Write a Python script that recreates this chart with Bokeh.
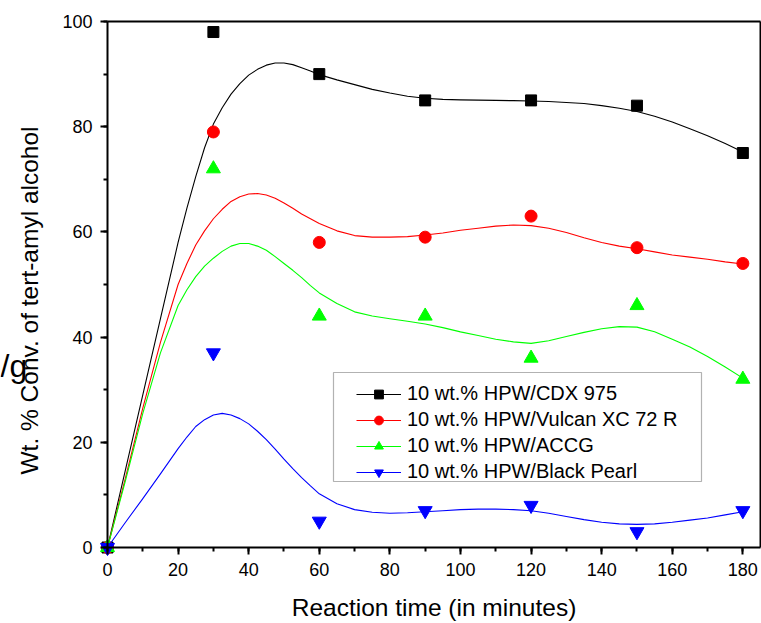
import math
from bokeh.plotting import figure
from bokeh.models import (SingleIntervalTicker, FixedTicker, LinearAxis, Label,
                          BoxAnnotation, Range1d)
from bokeh.embed import file_html
from bokeh.resources import INLINE

FONT = "Liberation Sans"

# measured points
time_min = [0, 30, 60, 90, 120, 150, 180]
cdx975 = [0, 98, 90, 85, 85, 84, 75]
vulcan = [0, 79, 58, 59, 63, 57, 54]
accg = [0, 72, 44, 44, 36, 46, 32]
black_pearl = [0, 37, 5, 7, 8, 3, 7]

# smooth fitted curves
fit_t = [0, 5, 10, 15, 20,
         22.5, 25, 27.5, 30, 32.5, 35, 37.5, 40, 42.5, 45, 47.5, 50, 52.5, 55, 57.5, 60,
         65, 70, 75, 80, 85, 90, 95, 100, 105, 110, 115, 120,
         125, 130, 135, 140, 145, 150, 155, 160, 165, 170, 175, 180]
fit_cdx = [0, 14.5, 29, 43.5, 58,
           64.5, 70.5, 76, 80.5, 83.6, 86.2, 88.2, 89.8, 90.9, 91.7, 92.1, 92.1, 91.8, 91.2, 90.6, 89.9,
           88.9, 88, 87.1, 86.4, 85.8, 85.4, 85.2, 85.1, 85.05, 85, 84.95, 84.9,
           84.8, 84.6, 84.4, 84, 83.5, 82.9, 82, 80.9, 79.6, 78.3, 76.8, 75.2]
fit_vulcan = [0, 13, 26.5, 39, 50,
              54, 57.5, 60.2, 62.5, 64.3, 65.8, 66.7, 67.2, 67.3, 67, 66.4, 65.5, 64.5, 63.4, 62.5, 61.6,
              60.2, 59.3, 59, 59, 59.1, 59.4, 59.8, 60.3, 60.7, 61.1, 61.3, 61.2,
              60.7, 59.9, 58.9, 58, 57.3, 56.8, 56.2, 55.6, 55.2, 54.8, 54.3, 53.9]
fit_accg = [0, 12.5, 25.5, 37, 46,
            49, 51.5, 53.5, 55, 56.3, 57.3, 57.8, 57.8, 57.3, 56.5, 55.3, 54, 52.7, 51.3, 49.8, 48.4,
            46.4, 44.8, 44, 43.5, 43, 42.5, 41.8, 41, 40.3, 39.6, 39.1, 38.8,
            39.3, 40.1, 40.9, 41.6, 42, 41.9, 41, 39.6, 38.1, 36.3, 34.3, 32.2]
fit_bp = [0, 4.7, 9.3, 14, 18.8,
          21, 23, 24.3, 25.2, 25.5, 25.2, 24.5, 23.5, 22.1, 20.5, 18.7, 16.8, 15, 13.3, 11.7, 10.2,
          8.3, 7.2, 6.7, 6.5, 6.6, 6.8, 7, 7.2, 7.3, 7.3, 7.2, 7.0,
          6.5, 5.9, 5.3, 4.8, 4.5, 4.4, 4.5, 4.8, 5.2, 5.6, 6.2, 6.8]

labels = ["10 wt.% HPW/CDX 975", "10 wt.% HPW/Vulcan XC 72 R",
          "10 wt.% HPW/ACCG", "10 wt.% HPW/Black Pearl"]
y_title = "Wt. % Conv. of tert-amyl alcohol"
x_title = "Reaction time (in minutes)"
stray_text = "/g"

# layout (pixels): the frame covers the whole canvas; the axes are drawn
# at fixed positions inside it so every text stays visible.
W, H = 761, 623
X_MAX, Y_MAX = 185, 100
LEFT_PX, RIGHT_PX = 107, 760     # canvas x of x = 0 and x = X_MAX
TOP_PX, BOTTOM_PX = 21, 547      # canvas y of y = Y_MAX and y = 0
kx = (RIGHT_PX - LEFT_PX) / X_MAX
ky = (BOTTOM_PX - TOP_PX) / Y_MAX
x_range = Range1d(-LEFT_PX / kx, X_MAX + (W - RIGHT_PX) / kx)
y_range = Range1d(-(H - BOTTOM_PX) / ky, Y_MAX + TOP_PX / ky)
UP = H - BOTTOM_PX               # screen y offset of the axis from frame bottom

p = figure(width=W, height=H, output_backend="svg", toolbar_location=None,
           x_range=x_range, y_range=y_range,
           x_axis_location=None, y_axis_location=None,
           min_border_left=0, min_border_right=0, min_border_top=0,
           min_border_bottom=0)
p.grid.visible = False
p.outline_line_color = None

series = [
    (cdx975, fit_cdx, "#000000", "square", 11),
    (vulcan, fit_vulcan, "#FF0000", "circle", 12),
    (accg, fit_accg, "#00FF00", "triangle", 14),
    (black_pearl, fit_bp, "#0000FF", "inverted_triangle", 14),
]
for (pts, fit, col, mk, sz), lab in zip(series, labels):
    p.line(fit_t, fit, line_color=col, line_width=1.1, legend_label=lab,
           line_join="round")
    p.scatter(time_min, pts, marker=mk, size=sz, fill_color=col, line_color=col,
              legend_label=lab)


def style(ax):
    ax.axis_line_width = 2
    ax.axis_line_color = "black"
    ax.major_tick_line_width = 2
    ax.minor_tick_line_width = 2
    ax.major_tick_out = 7
    ax.major_tick_in = 0
    ax.minor_tick_out = 4
    ax.minor_tick_in = 0
    ax.major_label_text_font = FONT
    ax.major_label_text_font_size = "18px"
    ax.major_label_text_color = "black"
    ax.major_label_standoff = 8


xax = LinearAxis(fixed_location=0, bounds=(0, X_MAX),
                 ticker=SingleIntervalTicker(interval=20, num_minor_ticks=2))
style(xax)
p.add_layout(xax, "below")

yax = LinearAxis(fixed_location=0, bounds=(0, Y_MAX),
                 ticker=SingleIntervalTicker(interval=20, num_minor_ticks=2))
style(yax)
p.add_layout(yax, "left")

# top and right border lines of the box
top = LinearAxis(fixed_location=Y_MAX, bounds=(0, X_MAX), ticker=FixedTicker(ticks=[]),
                 axis_line_width=2, axis_line_color="black",
                 major_tick_line_color=None, minor_tick_line_color=None)
p.add_layout(top, "above")
right = LinearAxis(fixed_location=X_MAX, bounds=(0, Y_MAX), ticker=FixedTicker(ticks=[]),
                   axis_line_width=2, axis_line_color="black",
                   major_tick_line_color=None, minor_tick_line_color=None)
p.add_layout(right, "right")

xt = Label(x=(LEFT_PX + RIGHT_PX) / 2, y=16, x_units="screen", y_units="screen",
           text=x_title, text_align="center", text_baseline="alphabetic",
           text_font=FONT, text_font_size="24.5px", text_color="black")
p.add_layout(xt)

yt = Label(x=29, y=UP + 247, x_units="screen", y_units="screen", text=y_title,
           angle=math.pi / 2, text_align="center", text_baseline="alphabetic",
           text_font=FONT, text_font_size="24.5px", text_color="black")
p.add_layout(yt)

stray = Label(x=0, y=UP + 182, x_units="screen", y_units="screen", text=stray_text,
              text_align="left", text_baseline="alphabetic",
              text_font=FONT, text_font_size="32px", text_color="black")
p.add_layout(stray)

lg = p.legend[0]
lg.location = (LEFT_PX + 249, UP + 64)
lg.margin = 0
lg.padding = 6
lg.border_line_color = None
lg.background_fill_alpha = 0
lg.glyph_width = 45
lg.glyph_height = 22
lg.label_height = 22
lg.spacing = 3
lg.label_standoff = 6
lg.label_text_font = FONT
lg.label_text_font_size = "20px"
lg.label_text_color = "black"

box = BoxAnnotation(left=LEFT_PX + 226, right=LEFT_PX + 594,
                    bottom=UP + 66, top=UP + 175,
                    left_units="screen", right_units="screen",
                    bottom_units="screen", top_units="screen",
                    fill_color=None, line_color="black", line_width=1.2)
p.add_layout(box)

open("out.html", "w").write(file_html(p, INLINE))
